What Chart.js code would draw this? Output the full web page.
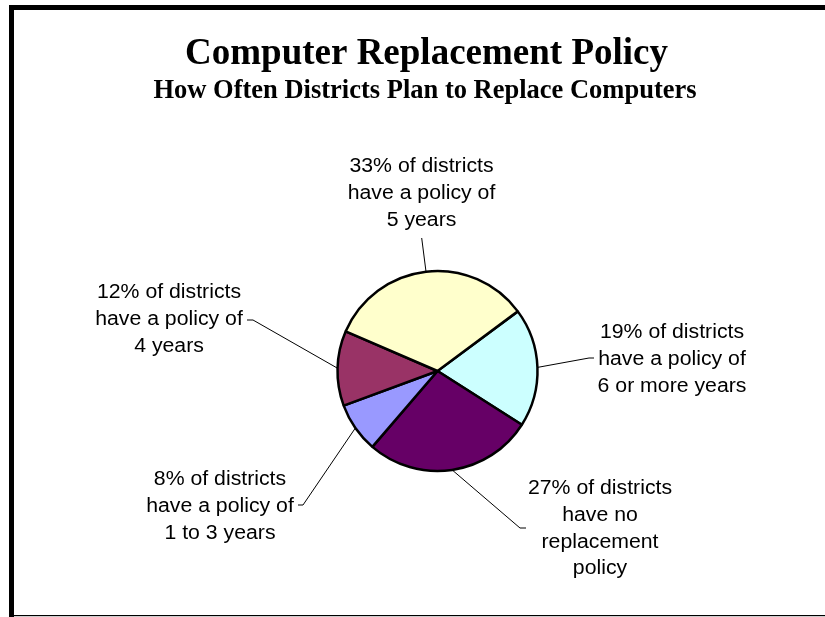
<!DOCTYPE html>
<html>
<head>
<meta charset="utf-8">
<title>Computer Replacement Policy</title>
<script src="https://cdn.jsdelivr.net/npm/chart.js@4/dist/chart.umd.min.js"></script>
<style>
  html, body { margin: 0; padding: 0; background: #fff; }
  #wrap { width: 825px; height: 617px; }
</style>
</head>
<body>
<div id="wrap"><canvas id="pie" width="825" height="617"></canvas></div>
<script>
// Replacement-policy categories, clockwise from the upper right
const categories = ['6 or more years', 'No replacement policy', '1 to 3 years', '4 years', '5 years'];
// Share of districts (%)
const percentages = [19, 27, 8, 12, 33];
// Wording that follows the "NN% of districts" line in each callout
const labelTails = [
  ['have a policy of', '6 or more years'],
  ['have no', 'replacement', 'policy'],
  ['have a policy of', '1 to 3 years'],
  ['have a policy of', '4 years'],
  ['have a policy of', '5 years']
];
const sliceColors = ['#CCFFFF', '#660066', '#9999FF', '#993366', '#FFFFCC'];

const titleText = 'Computer Replacement Policy';
const subtitleText = 'How Often Districts Plan to Replace Computers';

// Callout placement: text centre x, first baseline y, leader elbow and end
const calloutLayout = [
  { x: 672, y: 338, elbow: [589, 358], end: [594, 358] },
  { x: 600, y: 494, elbow: [520, 528], end: [526, 528] },
  { x: 220, y: 485, elbow: [303, 505], end: [298, 505] },
  { x: 169, y: 298, elbow: [253, 320], end: [247, 320] },
  { x: 421.5, y: 172, elbow: [421.7, 238], end: [421.7, 238] }
];

const framePlugin = {
  id: 'frame',
  beforeDraw(chart) {
    const ctx = chart.ctx;
    ctx.save();
    ctx.fillStyle = '#fff';
    ctx.fillRect(0, 0, chart.width, chart.height);
    ctx.fillStyle = '#000';
    ctx.fillRect(9, 5, chart.width - 9, 5);
    ctx.fillRect(9, 5, 5, chart.height - 5);
    ctx.fillRect(9, 615, chart.width - 9, 1.2);
    // headings
    ctx.textAlign = 'center';
    ctx.textBaseline = 'alphabetic';
    ctx.font = 'bold 37px "Liberation Serif", "Times New Roman", serif';
    ctx.fillText(titleText, 426.5, 63.5);
    ctx.font = 'bold 26.5px "Liberation Serif", "Times New Roman", serif';
    ctx.fillText(subtitleText, 425, 97.5);
    ctx.restore();
  }
};

const calloutPlugin = {
  id: 'callouts',
  afterDatasetsDraw(chart, args, opts) {
    const ctx = chart.ctx;
    const meta = chart.getDatasetMeta(0);
    ctx.save();
    meta.data.forEach((arc, i) => {
      const p = arc.getProps(['x', 'y', 'startAngle', 'endAngle', 'outerRadius'], true);
      const mid = (p.startAngle + p.endAngle) / 2;
      const sx = p.x + Math.cos(mid) * p.outerRadius;
      const sy = p.y + Math.sin(mid) * p.outerRadius;
      const lay = opts.layout[i];
      ctx.strokeStyle = '#000';
      ctx.lineWidth = 1;
      ctx.beginPath();
      ctx.moveTo(sx, sy);
      ctx.lineTo(lay.elbow[0], lay.elbow[1]);
      ctx.lineTo(lay.end[0], lay.end[1]);
      ctx.stroke();

      const lines = [percentages[i] + '% of districts'].concat(labelTails[i]);
      ctx.fillStyle = '#000';
      ctx.font = opts.fontSize + 'px "Liberation Sans", Arial, sans-serif';
      ctx.textAlign = 'center';
      ctx.textBaseline = 'alphabetic';
      lines.forEach((t, k) => {
        ctx.save();
        ctx.translate(lay.x, lay.y + k * opts.lineHeight);
        ctx.scale(opts.stretch, 1);
        ctx.fillText(t, 0, 0);
        ctx.restore();
      });
    });
    ctx.restore();
  }
};

new Chart(document.getElementById('pie'), {
  type: 'pie',
  data: {
    labels: categories,
    datasets: [{
      data: percentages,
      backgroundColor: sliceColors,
      borderColor: '#000',
      borderWidth: 2.5
    }]
  },
  options: {
    responsive: false,
    animation: false,
    rotation: 53.4,
    radius: 100,
    layout: { padding: { left: 150, right: 100, top: 200, bottom: 75 } },
    plugins: {
      legend: { display: false },
      tooltip: { enabled: false },
      title: { display: false },
      callouts: { layout: calloutLayout, fontSize: 19.5, lineHeight: 26.8, stretch: 1.09 }
    }
  },
  plugins: [framePlugin, calloutPlugin]
});
</script>
</body>
</html>
